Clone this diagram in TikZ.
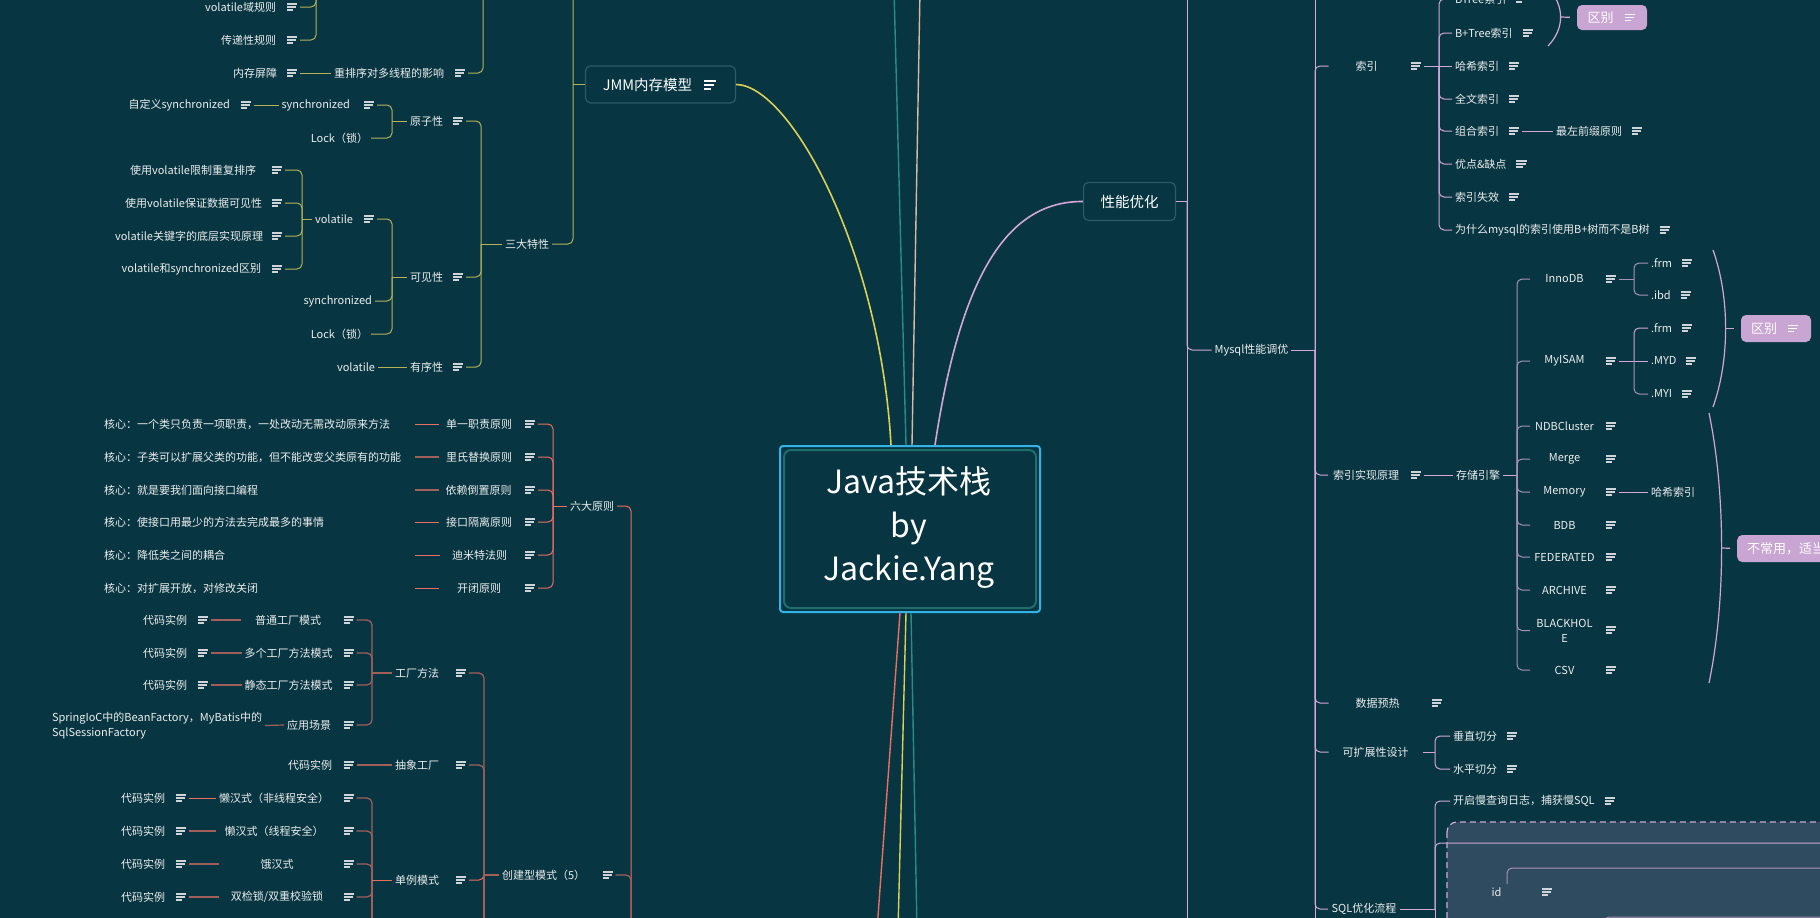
\documentclass[tikz,border=0pt]{standalone}
\usepackage{fontspec}
\setmainfont{Noto Sans CJK SC}
\usetikzlibrary{positioning}
\definecolor{bg}{HTML}{073642}
\definecolor{txt}{HTML}{EDEDED}
\definecolor{icol}{HTML}{CFD4D8}
\definecolor{yl}{HTML}{B5B25A}
\definecolor{ylm}{HTML}{DCCF55}
\definecolor{rd}{HTML}{EC6E60}
\definecolor{rdm}{HTML}{A3605B}
\definecolor{pk}{HTML}{D3A6D8}
\definecolor{pkm}{HTML}{A993B3}
\definecolor{lav}{HTML}{C9A5D3}
\definecolor{boxb}{HTML}{2E5A66}
\definecolor{rootb}{HTML}{33B2E8}
\definecolor{rooti}{HTML}{1F6E6C}
\definecolor{tl}{HTML}{2A8C88}
\definecolor{bei}{HTML}{D9B8A4}
\definecolor{slate}{HTML}{2E4B5F}
\tikzset{
 lbl/.style={font=\fontsize{11}{14}\selectfont, text=txt, inner sep=0pt, outer sep=3pt, align=center},
 core/.style={lbl, anchor=west, text width=308pt, align=left},
 prin/.style={lbl, minimum width=74pt},
 eng/.style={lbl, minimum width=63pt},
 icn/.style={minimum width=10pt, minimum height=9pt, inner sep=0pt, outer sep=3pt},
 cy/.style={draw=yl, line width=1pt, rounded corners=5pt},
 cr/.style={draw=rd, line width=1pt, rounded corners=5pt},
 crm/.style={draw=rdm, line width=1.2pt, rounded corners=5pt},
 cp/.style={draw=pk, line width=1pt, rounded corners=5pt},
 cpm/.style={draw=pkm, line width=1pt, rounded corners=5pt},
 lavbox/.style={fill=lav, rounded corners=5pt, inner sep=0pt},
 boxtxt/.style={font=\fontsize{13}{15}\selectfont, text=white, inner sep=0pt},
 lvl1/.style={draw=boxb, line width=1.2pt, rounded corners=5pt, fill=bg, inner sep=0pt, font=\fontsize{14.5}{16}\selectfont, text=white}
}
\newcommand\icodraw[2]{\draw[#1,line width=1.1pt] ([xshift=-5pt,yshift=3pt]#2.center) -- ++(10pt,0pt) ([xshift=-5pt]#2.center) -- ++(9pt,0pt) ([xshift=-5pt,yshift=-3pt]#2.center) -- ++(6pt,0pt);}
\newcommand\ico[3][icol]{\node[icn] (#2) at (#3) {};\icodraw{#1}{#2}}
\newcommand\icor[3][icol]{\node[icn,right=4pt of #3] (#2) {};\icodraw{#1}{#2}}
\newcommand\brc[5]{%
 \draw[cp,line width=1.2pt] (#1,#2) .. controls ({#1+1.2*#4},{#2+0.3*(#3-#2)}) and ({#1+1.2*#4},{#3-0.3*(#3-#2)}) .. (#1,#3);
 \draw[cp,line width=1.2pt,shorten >=7pt] ({#1+0.9*#4},{(#2+#3)/2}) -- (#5.west);}
\begin{document}
\begin{tikzpicture}[x=1pt,y=-1pt]
\useasboundingbox (0,0) rectangle (1820,918);
\clip (0,0) rectangle (1820,918);
\fill[bg] (-5,-5) rectangle (1825,923);
% dashed box
\path[fill=slate, draw=pk, dash pattern=on 6pt off 4pt, line width=1.2pt, rounded corners=10pt] (1447,822) rectangle (1860,960);

% ---------- Root ----------
\node[draw=rootb, line width=2pt, rounded corners=3pt, minimum width=260pt, minimum height=166pt, fill=bg] (R) at (910,529) {};
\node[draw=rooti, line width=2pt, rounded corners=7pt, minimum width=252pt, minimum height=158pt] (Ri) at (910,529) {};
\node[font=\fontsize{32}{43.5}\selectfont, text=white, align=center, inner sep=0pt] (Rt) at (909,528) {Java技术栈\\by\\Jackie.Yang};

% ---------- level 1 ----------
\node[lvl1, minimum width=150pt, minimum height=37pt] (JMM) at (660.5,84.5) {};
\node[font=\fontsize{14.5}{16}\selectfont, text=white, inner sep=0pt] (JMMt) at (647.5,85) {JMM内存模型};
\node[icn] (iJMM) at (710,85) {};
\draw[white,line width=1.2pt] ([xshift=-6pt,yshift=4pt]iJMM.center) -- ++(12pt,0pt) ([xshift=-6pt]iJMM.center) -- ++(10pt,0pt) ([xshift=-6pt,yshift=-4pt]iJMM.center) -- ++(7pt,0pt);
\node[lvl1, minimum width=92pt, minimum height=38pt] (PF) at (1129.5,201.5) {性能优化};

\draw[ylm, line width=1.6pt] (JMM.east) .. controls (790,85) and (880,250) .. ([xshift=-19pt]R.north);
\draw[pk, line width=1.6pt] ([xshift=25pt]R.north) .. controls (960,280) and (1005,201) .. (PF.west);
\coordinate (T1) at (894,-10); \coordinate (T2) at (920,-10);
\draw[tl, line width=1.4pt] ([xshift=-4pt]R.north) -- (T1);
\draw[bei, line width=1.4pt] ([xshift=2pt]R.north) -- (T2);
\coordinate (B1) at (877,930); \coordinate (B2) at (898,930); \coordinate (B3) at (917,930);
\draw[rd, line width=1.4pt] ([xshift=-10pt]R.south) -- (B1);
\draw[ylm, line width=1.4pt] ([xshift=-4pt]R.south) -- (B2);
\draw[tl, line width=1.4pt] ([xshift=1pt]R.south) -- (B3);

% ---------- Yellow (JMM) ----------
\node[lbl,anchor=east] (A1) at (279,7) {volatile域规则}; \ico{iA1}{292,7}
\node[lbl,anchor=east] (A2) at (279,40) {传递性规则}; \ico{iA2}{292,40}
\node[lbl,anchor=east] (A3) at (280,73) {内存屏障}; \ico{iA3}{292,73}
\node[lbl,anchor=west] (A4) at (331,73) {重排序对多线程的影响}; \ico{iA4}{460,73}
\node[lbl,anchor=east] (A5) at (233,105) {自定义synchronized}; \ico{iA5}{245.5,105}
\node[lbl,anchor=east] (A6) at (353,105) {synchronized}; \ico{iA6}{369,105}
\node[lbl,anchor=east] (A7) at (371,138) {Lock（锁）};
\node[lbl,anchor=east] (A8) at (446,121) {原子性}; \ico{iA8}{458,121}
\node[lbl,anchor=east] (A9) at (259,170) {使用volatile限制重复排序}; \ico{iA9}{277,170}
\node[lbl,anchor=east] (A10) at (265,203) {使用volatile保证数据可见性}; \ico{iA10}{277,203}
\node[lbl,anchor=east] (A11) at (266,236) {volatile关键字的底层实现原理}; \ico{iA11}{277,236}
\node[lbl,anchor=east] (A12) at (264,269) {volatile和synchronized区别}; \ico{iA12}{277,269}
\node[lbl,anchor=east] (A13) at (356,219) {volatile}; \ico{iA13}{369,219}
\node[lbl,anchor=east] (A14) at (375,301) {synchronized};
\node[lbl,anchor=east] (A15) at (371,334) {Lock（锁）};
\node[lbl,anchor=east] (A16) at (446,277) {可见性}; \ico{iA16}{458,277}
\node[lbl,anchor=east] (A17) at (378,367) {volatile};
\node[lbl,anchor=east] (A18) at (446,367) {有序性}; \ico{iA18}{458,367}
\node[lbl,anchor=east] (A19) at (552,244) {三大特性};
\coordinate (bA1) at (316,-10);
\coordinate (bA4) at (483,-10);
\coordinate (bA8) at (392,121);
\coordinate (bA13) at (302,219);
\coordinate (bA16) at (392,277);
\coordinate (bA19) at (481,244);
\coordinate (bJ) at (573,-10);
\draw[cy] (iA1.east) -- (iA1.east -| bA1) -- (bA1);
\draw[cy] (iA2.east) -- (iA2.east -| bA1) -- (bA1);
\draw[cy] (iA3.east) -- (A4.west);
\draw[cy] (iA4.east) -- (iA4.east -| bA4) -- (bA4);
\draw[cy] (iA5.east) -- (A6.west);
\draw[cy] (iA6.east) -- (iA6.east -| bA8) -- (bA8);
\draw[cy] (A7.east) -- (A7.east -| bA8) -- (bA8);
\draw[cy] (bA8) -- (A8.west);
\foreach \n in {iA9,iA10,iA11,iA12} \draw[cy] (\n.east) -- (\n.east -| bA13) -- (bA13);
\draw[cy] (bA13) -- (A13.west);
\foreach \n in {iA13,A14,A15} \draw[cy] (\n.east) -- (\n.east -| bA16) -- (bA16);
\draw[cy] (bA16) -- (A16.west);
\draw[cy] (A17.east) -- (A18.west);
\foreach \n in {iA8,iA16,iA18} \draw[cy] (\n.east) -- (\n.east -| bA19) -- (bA19);
\draw[cy] (bA19) -- (A19.west);
\draw[cy] (A19.east) -- (A19.east -| bJ) -- (bJ);
\draw[cy] (bJ |- JMM.west) -- (JMM.west);

% ---------- Red (principles / patterns) ----------
\node[core] (C1) at (101,424) {核心：一个类只负责一项职责，一处改动无需改动原来方法};
\node[core] (C2) at (101,457) {核心：子类可以扩展父类的功能，但不能改变父类原有的功能};
\node[core] (C3) at (101,490) {核心：就是要我们面向接口编程};
\node[core] (C4) at (101,522) {核心：使接口用最少的方法去完成最多的事情};
\node[core] (C5) at (101,555) {核心：降低类之间的耦合};
\node[core] (C6) at (101,588) {核心：对扩展开放，对修改关闭};
\node[prin] (P1) at (479,424) {单一职责原则}; \ico{iP1}{530,424}
\node[prin] (P2) at (479,457) {里氏替换原则}; \ico{iP2}{530,457}
\node[prin] (P3) at (478.5,490) {依赖倒置原则}; \ico{iP3}{530,490}
\node[prin] (P4) at (479,522) {接口隔离原则}; \ico{iP4}{530,522}
\node[prin] (P5) at (479.5,555) {迪米特法则}; \ico{iP5}{530,555}
\node[prin] (P6) at (479,588) {开闭原则}; \ico{iP6}{530,588}
\draw[cr] (C1.east) -- (P1.west);
\draw[crm] (C2.east) -- (P2.west);
\draw[crm] (C3.east) -- (P3.west);
\draw[cr] (C4.east) -- (P4.west);
\draw[cr] (C5.east) -- (P5.west);
\draw[cr] (C6.east) -- (P6.west);
\node[lbl] (SX) at (592,506) {六大原则};
\coordinate (b553) at (553,506);
\foreach \n in {iP1,iP2,iP3,iP4,iP5,iP6} \draw[cr] (\n.east) -- (\n.east -| b553) -- (b553);
\draw[cr] (b553) -- (SX.west);
\coordinate (bR) at (631,940);
\draw[cr] (SX.east) -- (SX.east -| bR) -- (bR);

\node[lbl,anchor=east] (D1) at (190,620) {代码实例}; \ico{iD1}{202.5,620}
\node[lbl,minimum width=88pt] (F1) at (288,620) {普通工厂模式}; \ico{iF1}{348.5,620}
\node[lbl,anchor=east] (D2) at (190,653) {代码实例}; \ico{iD2}{202.5,653}
\node[lbl,minimum width=88pt] (F2) at (288.5,653) {多个工厂方法模式}; \ico{iF2}{348.5,653}
\node[lbl,anchor=east] (D3) at (190,685) {代码实例}; \ico{iD3}{202.5,685}
\node[lbl,minimum width=88pt] (F3) at (288.5,685) {静态工厂方法模式}; \ico{iF3}{348.5,685}
\node[lbl,anchor=west,align=left,font=\fontsize{11}{15}\selectfont] (SP) at (49,725.5) {SpringIoC中的BeanFactory，MyBatis中的\\SqlSessionFactory};
\node[lbl,anchor=west] (F4) at (284,725) {应用场景}; \ico{iF4}{348.5,725}
\draw[crm] (iD1.east) -- (F1.west);
\draw[crm] (iD2.east) -- (F2.west);
\draw[crm] (iD3.east) -- (F3.west);
\draw[crm] (SP.east) -- (F4.west);
\coordinate (b372a) at (372,673);
\node[lbl,anchor=east] (FF) at (442,673) {工厂方法}; \ico{iFF}{461,673}
\foreach \n in {iF1,iF2,iF3,iF4} \draw[crm] (\n.east) -- (\n.east -| b372a) -- (b372a);
\draw[crm] (b372a) -- (FF.west);
\node[lbl,anchor=east] (D5) at (335,765) {代码实例}; \ico{iD5}{348.5,765}
\node[lbl,anchor=east] (AF) at (442,765) {抽象工厂}; \ico{iAF}{461,765}
\draw[crm] (iD5.east) -- (AF.west);

\node[lbl,anchor=east] (D6) at (168,798) {代码实例}; \ico{iD6}{180.5,798}
\node[lbl,minimum width=110pt] (S1) at (274,798) {懒汉式（非线程安全）}; \ico{iS1}{348.5,798}
\node[lbl,anchor=east] (D7) at (168,831) {代码实例}; \ico{iD7}{180.5,831}
\node[lbl,minimum width=110pt] (S2) at (274,831) {懒汉式（线程安全）}; \ico{iS2}{348.5,831}
\node[lbl,anchor=east] (D8) at (168,864) {代码实例}; \ico{iD8}{180.5,864}
\node[lbl,minimum width=110pt] (S3) at (277,864) {饿汉式}; \ico{iS3}{348.5,864}
\node[lbl,anchor=east] (D9) at (168,897) {代码实例}; \ico{iD9}{180.5,897}
\node[lbl,minimum width=110pt] (S4) at (277,897) {双检锁/双重校验锁}; \ico{iS4}{348.5,897}
\draw[cr] (iD6.east) -- (S1.west);
\draw[crm] (iD7.east) -- (S2.west);
\draw[crm] (iD8.east) -- (S3.west);
\draw[crm] (iD9.east) -- (S4.west);
\coordinate (b372b) at (372,880); \coordinate (b372c) at (372,940);
\foreach \n in {iS1,iS2,iS3,iS4} \draw[crm] (\n.east) -- (\n.east -| b372b) -- (b372b);
\draw[crm] (b372b) -- (b372c);
\node[lbl,anchor=east] (SG) at (442,880) {单例模式}; \ico{iSG}{461,880}
\draw[cr] (b372b) -- (SG.west);
\coordinate (b484) at (484,875); \coordinate (b484c) at (484,940);
\node[lbl,anchor=west] (CJ) at (499,875) {创建型模式（5）}; \ico{iCJ}{607.5,875}
\foreach \n in {iFF,iAF} \draw[crm] (\n.east) -- (\n.east -| b484) -- (b484);
\draw[cr] (iSG.east) -- (iSG.east -| b484) -- (b484);
\draw[crm] (b484) -- (b484c);
\draw[crm] (b484) -- (CJ.west);
\draw[crm] (iCJ.east) -- (iCJ.east -| bR) -- (bR);

% ---------- Pink (performance) ----------
\coordinate (bPt) at (1187,-10); \coordinate (bPb) at (1187,940);
\draw[cp] (bPt) -- (bPb);
\draw[cp] (PF.east) -- (PF.east -| bPt);
\node[lbl] (MY) at (1251.5,350) {Mysql性能调优};
\draw[cp] (PF.east -| bPt) -- (bPt |- MY.west) -- (MY.west);
\coordinate (bMt) at (1315,-10); \coordinate (bMb) at (1315,940); \coordinate (bM) at (1315,350);
\draw[cp] (bMt) -- (bMb);
\draw[cp] (MY.east) -- (bM);
\node[lbl,minimum width=70pt] (IX) at (1366.5,66) {索引}; \ico{iIX}{1415.5,66}
\node[lbl,minimum width=70pt] (IR) at (1366,475) {索引实现原理}; \ico{iIR}{1415.5,475}
\node[lbl,minimum width=92pt] (DP) at (1377.5,703) {数据预热}; \ico{iDP}{1437,703}
\node[lbl,minimum width=88pt] (KZ) at (1375.5,752) {可扩展性设计};
\node[lbl,minimum width=66pt] (SQ) at (1364,909) {SQL优化流程};
\foreach \n in {IX,IR,DP,KZ,SQ} \draw[cp] (bM) -- (bM |- \n.west) -- (\n.west);

\coordinate (bIX) at (1439,66);
\draw[cp] (iIX.east) -- (bIX);
\node[lbl,anchor=west] (X0) at (1452,-1) {BTree索引}; \icor{iX0}{X0}
\node[lbl,anchor=west] (X1) at (1452,33) {B+Tree索引}; \icor{iX1}{X1}
\node[lbl,anchor=west] (X2) at (1452,66) {哈希索引}; \icor{iX2}{X2}
\node[lbl,anchor=west] (X3) at (1452,99) {全文索引}; \icor{iX3}{X3}
\node[lbl,anchor=west] (X4) at (1452,131) {组合索引}; \icor{iX4}{X4}
\node[lbl,anchor=west] (X5) at (1452,164) {优点\&缺点}; \icor{iX5}{X5}
\node[lbl,anchor=west] (X6) at (1452,197) {索引失效}; \icor{iX6}{X6}
\node[lbl,anchor=west] (X7) at (1452,230) {为什么mysql的索引使用B+树而不是B树}; \icor{iX7}{X7}
\node[lbl,anchor=west] (X4b) at (1553,131) {最左前缀原则}; \icor{iX4b}{X4b}
\draw[cp] (iX4.east) -- (X4b.west);
\foreach \n in {X0,X1,X3,X4,X5,X6,X7} \draw[cp] (bIX) -- (bIX |- \n.west) -- (\n.west);
\draw[cp] (bIX) -- (X2.west);

\node[lavbox, minimum width=70pt, minimum height=25pt] (QB1) at (1612,17.5) {};
\node[boxtxt] (QB1t) at (1600.5,17.5) {区别}; \ico[white]{iQB1}{1630,17.5}
\brc{1548}{-12}{46}{14}{QB1}

\node[lbl] (ST) at (1478,475) {存储引擎};
\draw[cp] (iIR.east) -- (ST.west);
\coordinate (bST) at (1517,475);
\draw[cp] (ST.east) -- (bST);
\node[eng] (E1) at (1564.5,279) {InnoDB}; \ico{iE1}{1610.5,279}
\node[eng] (E2) at (1564.5,361) {MyISAM}; \ico{iE2}{1610.5,361}
\node[eng] (E3) at (1564.5,426) {NDBCluster}; \ico{iE3}{1610.5,426}
\node[eng] (E4) at (1564.5,459) {Merge}; \ico{iE4}{1610.5,459}
\node[eng] (E5) at (1564.5,492) {Memory}; \ico{iE5}{1610.5,492}
\node[eng] (E6) at (1564.5,525) {BDB}; \ico{iE6}{1610.5,525}
\node[eng] (E7) at (1564.5,557) {FEDERATED}; \ico{iE7}{1610.5,557}
\node[eng] (E8) at (1564.5,590) {ARCHIVE}; \ico{iE8}{1610.5,590}
\node[eng,font=\fontsize{11}{15}\selectfont] (E9) at (1564.5,630.5) {BLACKHOL\\E}; \ico{iE9}{1610.5,630}
\node[eng] (E10) at (1564.5,670) {CSV}; \ico{iE10}{1610.5,670}
\foreach \n in {E1,E2,E3,E4,E5,E6,E7,E8,E9,E10} \draw[cpm] (bST) -- (bST |- \n.west) -- (\n.west);

\coordinate (bE1) at (1634,279);
\draw[cpm] (iE1.east) -- (bE1);
\node[lbl,anchor=west] (G1) at (1648,263) {.frm}; \icor{iG1}{G1}
\node[lbl,anchor=west] (G2) at (1648,295) {.ibd}; \icor{iG2}{G2}
\draw[cpm] (bE1) -- (bE1 |- G1.west) -- (G1.west);
\draw[cpm] (bE1) -- (bE1 |- G2.west) -- (G2.west);
\coordinate (bE2) at (1634,361);
\draw[cp] (iE2.east) -- (bE2);
\node[lbl,anchor=west] (G3) at (1648,328) {.frm}; \icor{iG3}{G3}
\node[lbl,anchor=west] (G4) at (1648,361) {.MYD}; \icor{iG4}{G4}
\node[lbl,anchor=west] (G5) at (1648,394) {.MYI}; \icor{iG5}{G5}
\draw[cp] (bE2) -- (bE2 |- G3.west) -- (G3.west);
\draw[cp] (bE2) -- (G4.west);
\draw[cpm] (bE2) -- (bE2 |- G5.west) -- (G5.west);
\node[lbl,anchor=west] (G6) at (1648,492) {哈希索引};
\draw[cp] (iE5.east) -- (G6.west);

\node[lavbox, minimum width=70pt, minimum height=27pt] (QB2) at (1776,328.5) {};
\node[boxtxt] (QB2t) at (1764,328.5) {区别}; \ico[white]{iQB2}{1793,328.5}
\brc{1713}{250}{407}{14}{QB2}
\node[lavbox, minimum width=130pt, minimum height=27pt, anchor=west] (QB3) at (1737,548.5) {};
\node[boxtxt, anchor=west] (QB3t) at (1747,548.5) {不常用，适当};
\brc{1709}{413}{683}{14}{QB3}

\coordinate (bKZ) at (1435,752);
\draw[cp] (KZ.east) -- (bKZ);
\node[lbl,anchor=west] (V1) at (1450,736) {垂直切分}; \icor{iV1}{V1}
\node[lbl,anchor=west] (V2) at (1450,769) {水平切分}; \icor{iV2}{V2}
\draw[cp] (bKZ) -- (bKZ |- V1.west) -- (V1.west);
\draw[cp] (bKZ) -- (bKZ |- V2.west) -- (V2.west);

\coordinate (bSQ) at (1435,909);
\draw[cp] (SQ.east) -- (bSQ);
\node[lbl,anchor=west] (Q1) at (1450,801) {开启慢查询日志，捕获慢SQL}; \icor{iQ1}{Q1}
\draw[cp] (bSQ) -- (bSQ |- Q1.west) -- (Q1.west);
\coordinate (Q2) at (1840,843);
\draw[cp] (bSQ) -- (bSQ |- Q2) -- (Q2);
\coordinate (bSQb) at (1435,940);
\draw[cp] (bSQ) -- (bSQb);

\node[lbl] (ID) at (1496.5,892) {id}; \ico{iID}{1547,892}
\coordinate (Q3) at (1840,868); \coordinate (Q3s) at (1507,884);
\draw[cpm] (Q3s) -- (Q3s |- Q3) -- (Q3);
\coordinate (Q4) at (1840,917); \coordinate (Q4s) at (1604,935);
\draw[cpm] (Q4s) -- (Q4s |- Q4) -- (Q4);
\end{tikzpicture}
\end{document}
